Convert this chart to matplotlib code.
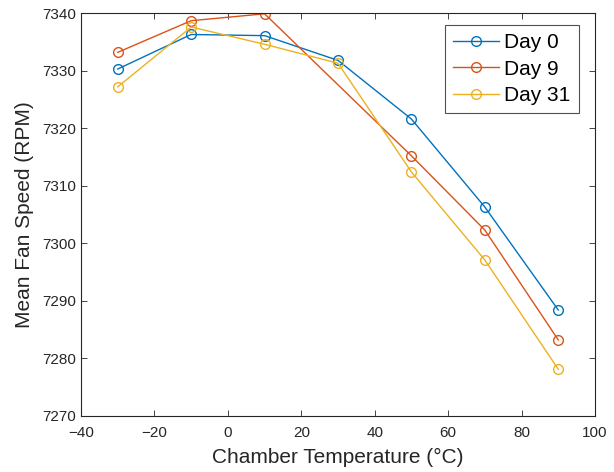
import matplotlib.pyplot as plt

plt.rcParams['font.family'] = ['Liberation Sans', 'DejaVu Sans']

temps = [-30, -10, 10, 30, 50, 70, 90]
temps_day9 = [-30, -10, 10, 50, 70, 90]

day0 = [7330.3, 7336.3, 7336.1, 7331.8, 7321.6, 7306.3, 7288.4]
day9 = [7333.2, 7338.7, 7339.9, 7315.2, 7302.3, 7283.2]
day31 = [7327.2, 7337.6, 7334.6, 7331.3, 7312.4, 7297.1, 7278.1]

dark = '#262626'

fig = plt.figure(figsize=(6.14, 4.72), dpi=100)
ax = fig.add_axes([0.132, 0.119, 0.837, 0.853])

ax.plot(temps, day0, '-o', color='#0072BD', lw=1, ms=7, mfc='none', mew=1, label='Day 0')
ax.plot(temps_day9, day9, '-o', color='#D95319', lw=1, ms=7, mfc='none', mew=1, label='Day 9')
ax.plot(temps, day31, '-o', color='#EDB120', lw=1, ms=7, mfc='none', mew=1, label='Day 31')

ax.set_xlim(-40, 100)
ax.set_ylim(7270, 7340)
ax.set_xticks(range(-40, 101, 20))
ax.set_yticks(range(7270, 7341, 10))
ax.tick_params(direction='in', top=True, right=True, labelsize=11, colors=dark,
               length=4, width=0.6)
ax.tick_params(axis='x', pad=7)
for s in ax.spines.values():
    s.set_color(dark)
    s.set_linewidth(0.8)

ax.set_xlabel('Chamber Temperature (°C)', fontsize=15, color=dark, labelpad=6)
ax.set_ylabel('Mean Fan Speed (RPM)', fontsize=15, color=dark, labelpad=6)

leg = ax.legend(loc='upper right', fontsize=15, fancybox=False, edgecolor=dark,
                handlelength=2.2, borderpad=0.4, labelspacing=0.35, handletextpad=0.25,
                borderaxespad=0, bbox_to_anchor=(0.969, 0.971))
leg.get_frame().set_linewidth(0.8)

fig.savefig('out.png', dpi=100)
